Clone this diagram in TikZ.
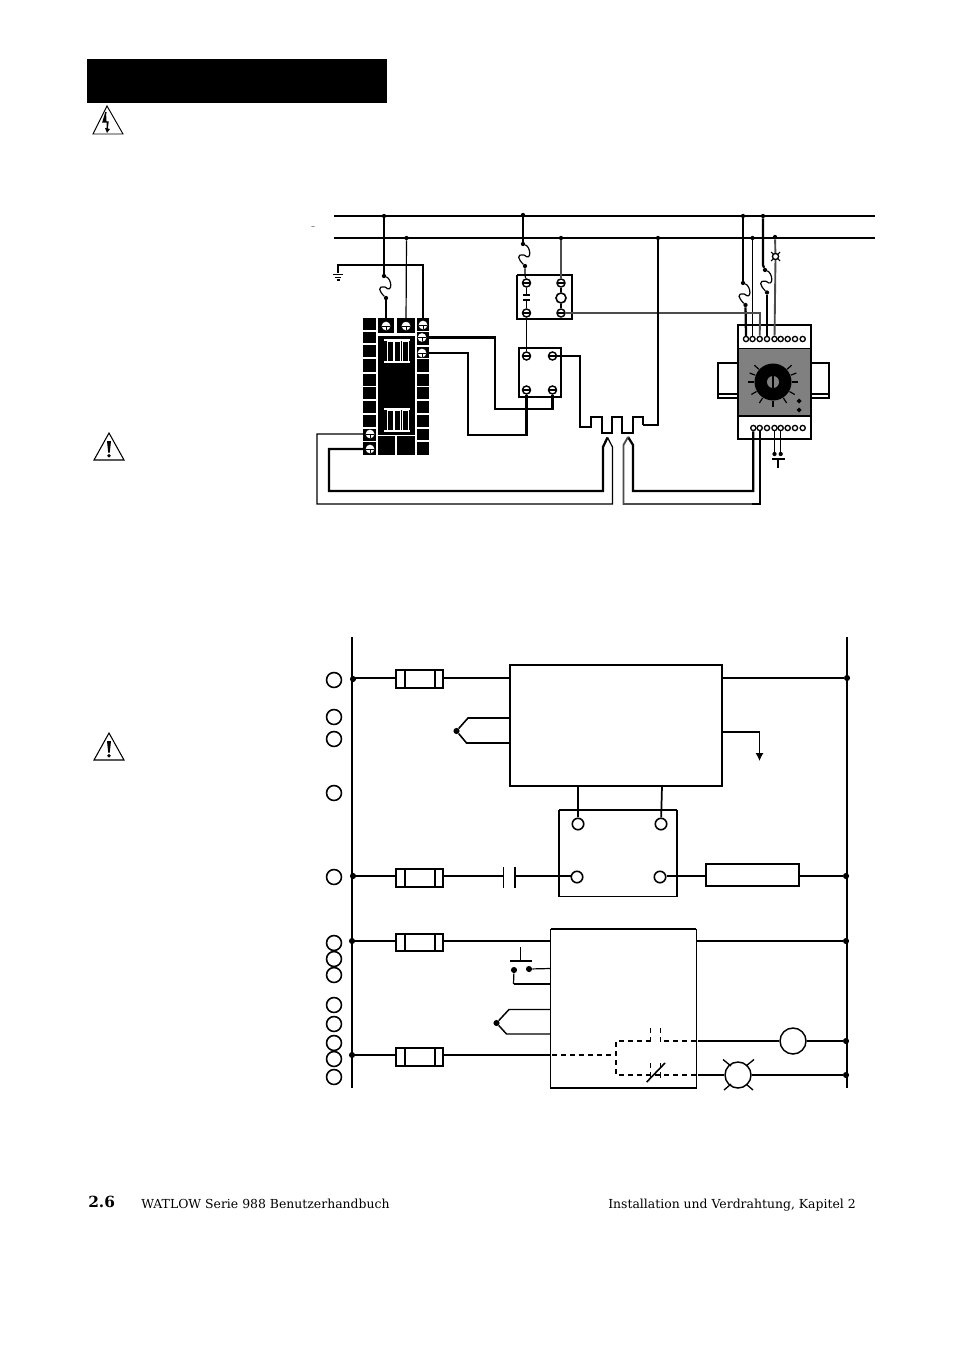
\documentclass[tikz,border=0pt]{standalone}
\usepackage{fontspec}
\setmainfont{DejaVu Serif}
\usetikzlibrary{arrows.meta,calc}
\definecolor{midgray}{gray}{0.5}
\definecolor{wiregray}{gray}{0.3}
\tikzset{
  w1/.style={line width=0.9pt},
  w2/.style={line width=1.7pt},
  graywire/.style={line width=1.4pt,color=wiregray},
  dot/.style={circle,fill=black,inner sep=0pt,minimum size=4.6pt},
  smalldot/.style={circle,fill=black,inner sep=0pt,minimum size=3.2pt},
  screw/.style={circle,draw=black,fill=white,line width=1.1pt,inner sep=0pt,minimum size=6pt,
    path picture={\draw[line width=1.1pt] (path picture bounding box.west)--(path picture bounding box.east);}},
  din/.style={circle,draw=black,fill=white,line width=1pt,inner sep=0pt,minimum size=3.9pt},
  ctrm/.style={circle,fill=white,inner sep=0pt,minimum size=6.5pt,
    path picture={\draw[line width=.7pt] (path picture bounding box.west)--(path picture bounding box.east);
      \draw[line width=.7pt] (path picture bounding box.center)--(path picture bounding box.south);}},
  cell/.style={fill=black,draw=none},
  ring/.style={circle,draw=black,line width=1.2pt,fill=white,inner sep=0pt,minimum size=11.2pt},
  lrg/.style={circle,draw=black,line width=1.2pt,fill=white,inner sep=0pt,minimum size=8.6pt},
  coil/.style={circle,draw=black,line width=1.1pt,fill=white,inner sep=0pt,minimum size=19.5pt},
  fusebox/.style={draw=black,fill=white,line width=1.4pt,minimum width=35pt,minimum height=13pt,inner sep=0pt},
  warn/.style={draw=black,line width=.8pt,fill=white,line join=miter},
  dashw/.style={line width=1.6pt,dash pattern=on 3.75pt off 3pt},
  dashv/.style={line width=.9pt,dash pattern=on 4pt off 3pt},
  foot/.style={inner sep=0pt,anchor=base west,font=\fontsize{9.32}{11}\selectfont}
}
\newcommand{\fuseline}[3][w1]{\draw[#1] (#2) .. controls +(8,3) and +(8,7) .. ($(#2)!0.5!(#3)$) .. controls +(-8,-1) and +(-7,-7) .. (#3);}
\newcommand{\pillars}[1]{%
  \foreach \cx in {387,394.5,402}{\draw[white,line width=.45pt] (\cx,#1+2) rectangle (\cx+6,#1+22);}
  \draw[white,line width=1.1pt] (384,#1+1) -- (410,#1+1);
  \draw[white,line width=1.1pt] (384,#1+23) -- (410,#1+23);
}
\newcommand{\warnmark}[1]{%
  \draw[warn] (109,#1) -- (124,#1+27) -- (94,#1+27) -- cycle;
  \fill (107,#1+8) -- (111,#1+8) -- (109.8,#1+19.5) -- (108.2,#1+19.5) -- cycle;
  \fill (109,#1+22.8) circle[radius=1.9];
}
\begin{document}
\begin{tikzpicture}[x=0.75pt,y=-0.75pt]
\useasboundingbox (0,0) rectangle (954,1351);
\fill[white] (0,0) rectangle (954,1351);
% header
\fill[black] (87,59) rectangle (387,103);
% warnings
\draw[warn,line width=.7pt] (107,106) -- (123,134) -- (93,134) -- cycle;
\draw[line width=1pt,fill=black] (106,112) -- (103,122) -- (108,122) -- (107,130);
\fill (105,128) -- (110,129) -- (107,133) -- cycle;
\warnmark{433}
\warnmark{733}

%%% upper diagram
\node[inner sep=0pt,font=\fontsize{4}{4}\selectfont] (tilde) at (313,227) {\~{}};
\coordinate (L1w) at (334,216); \coordinate (L1e) at (875,216);
\coordinate (L2w) at (334,238); \coordinate (L2e) at (875,238);
\draw[w2] (L1w) -- (L1e);
\draw[w2] (L2w) -- (L2e);

% controller body
\foreach \a/\b in {318/330,332/343,345/357,359/372,374/386,387/399,401/413,415/427,429/441,442/455}{\fill[cell] (363,\a) rectangle (376,\b);}
\foreach \a/\b in {318/331,332/345,347/358,359/372,374/386,387/399,401/413,415/427,429/440,442/455}{\fill[cell] (417,\a) rectangle (429,\b);}
\fill[cell] (378,318) rectangle (394,333);
\fill[cell] (397,318) rectangle (415,333);
\fill[cell] (378,336) rectangle (415,435);
\fill[cell] (378,436) rectangle (395,455);
\fill[cell] (397,436) rectangle (415,455);
\pillars{339}
\pillars{408}
\node[ctrm] (ct1) at (386,326) {};
\node[ctrm] (ct2) at (406,326) {};
\node[ctrm] (ct3) at (423,325) {};
\node[ctrm] (ct4) at (422,337.5) {};
\node[ctrm] (ct5) at (422,353) {};
\node[ctrm] (ct6) at (370,434) {};
\node[ctrm] (ct7) at (370,449) {};

% bus junctions
\node[smalldot] (j1) at (384,216) {};
\node[smalldot] (j2) at (406.5,238) {};
\node[smalldot] (j3) at (523,215) {};
\node[smalldot] (j4) at (561,238) {};
\node[smalldot] (j5) at (658,238) {};
\node[smalldot] (j6) at (743,216) {};
\node[smalldot] (j7) at (752.5,238) {};
\node[smalldot] (j8) at (763,216) {};
\node[smalldot] (j9) at (775,237) {};

% ground
\coordinate (gnd) at (338,273);
\draw[w2] (ct3) -- (423,265) -| (gnd);
\draw[line width=1.2pt] (333,274.5) -- (343,274.5);
\draw[line width=1.2pt] (335,277.5) -- (341,277.5);
\draw[line width=1.2pt] (336.5,280) -- (339.5,280);

% fuse 1
\node[smalldot] (f1a) at (384,276) {};
\node[smalldot] (f1b) at (386,298) {};
\draw[w1] (j1) -- (f1a);
\fuseline{f1a}{f1b}
\draw[w1] (f1b) -- (ct1);
\draw[w1] (j2) -- (406,322);

% relay box 1
\node[draw=black,line width=.8pt,minimum width=41.2pt,minimum height=33pt,inner sep=0pt] (rb1) at (544.5,297) {};
\draw[line width=1.5pt] (517,275) -- (517,319) -- (572,319);
\node[screw] (s1) at (526.5,283) {};
\node[screw] (s2) at (526.5,313) {};
\node[screw] (s3) at (561,283) {};
\node[screw] (s4) at (561,313) {};
\node[lrg,minimum size=7.5pt] (cir) at (561,298) {};
\draw[w1] (523,295) -- (530,295);
\draw[w1] (523,300) -- (530,300);
\draw[w1] (s1) -- (526.5,295);
\draw[w1] (526.5,300) -- (s2);
\draw[line width=1pt] (s3) -- (cir) -- (s4);
\node[smalldot] (f2a) at (523,244) {};
\node[smalldot] (f2b) at (525,266) {};
\draw[w1] (j3) -- (f2a);
\fuseline{f2a}{f2b}
\draw[w1] (f2b) -- (525,275) -- (s1);
\draw[graywire] (j4) -- (s3);

% relay box 2
\node[draw=black,line width=1.5pt,minimum width=31.5pt,minimum height=36.7pt,inner sep=0pt] (rb2) at (540,372.5) {};
\node[screw] (s5) at (526.5,356) {};
\node[screw] (s6) at (552.5,356) {};
\node[screw] (s7) at (526.5,390) {};
\node[screw] (s8) at (552.5,390) {};
\draw[w1] (s2) -- (s5);

% DIN module
\draw[line width=1.2pt,fill=white] (718,363) rectangle (738,398);
\draw[line width=.8pt] (718,394) -- (738,394);
\draw[line width=1.2pt,fill=white] (811,363) rectangle (829,398);
\draw[line width=.8pt] (811,394) -- (829,394);
\node[draw=black,line width=1.2pt,fill=white,minimum width=54.7pt,minimum height=85.5pt,inner sep=0pt] (din) at (774.5,382) {};
\fill[midgray] (738.5,349) rectangle (810.5,416);
\draw[line width=1.2pt] (738,348.5) -- (811,348.5);
\draw[line width=.8pt] (738,416) -- (811,416);
\draw[line width=1.2pt] (738,325) -- (738,439);
\draw[line width=1.2pt] (811,325) -- (811,439);
\foreach \ang in {90,57,30,0,-21,-42,123,150,180,201,222}{
  \draw[line width=.9pt] ($(773,382)+(\ang:19)$) -- ($(773,382)+(\ang:25)$);}
\fill[black] (773,382) circle[radius=18.5];
\fill[midgray] (773,382) circle[radius=6];
\fill[black] (771.6,376) rectangle (774.4,388);
\foreach \yy in {401,410}{\fill (799,\yy-2.5) -- (801.5,\yy) -- (799,\yy+2.5) -- (796.5,\yy) -- cycle;}
\foreach \n/\x in {1/746,2/752.5,3/759.7,4/767,5/774.5,6/780.7,7/787.7,8/795,9/802.7}{\node[din] (tt\n) at (\x,339) {};}
\foreach \n/\x in {2/753.3,3/759.7,4/767,5/774.5,6/780.7,7/787.7,8/795,9/802.7}{\node[din] (tb\n) at (\x,428) {};}

% wires to DIN
\node[smalldot] (f3a) at (743,283) {};
\node[smalldot] (f3b) at (745.5,305) {};
\draw[w2] (j6) -- (f3a);
\fuseline[w1]{f3a}{f3b}
\draw[w2] (f3b) -- (746,336) -- (tt1);
\draw[w1] (j7) -- (tt2);
\draw[graywire] (s4) -- (760,313) -- (tt3);
\node[smalldot] (f4a) at (765,270) {};
\node[smalldot] (f4b) at (767,292.5) {};
\draw[w2] (j8) -- (763,265) -- (f4a);
\fuseline[w1]{f4a}{f4b}
\draw[w2] (f4b) -- (tt4);
\node[circle,draw=black,line width=.9pt,fill=white,inner sep=0pt,minimum size=4.5pt] (mlamp) at (775.5,256.5) {};
\draw[graywire] (j9) -- (mlamp) -- (tt5);
\draw[line width=.8pt] (771,252) -- (780,261);
\draw[line width=.8pt] (780,252) -- (771,261);
\node[circle,draw=black,line width=.9pt,fill=white,inner sep=0pt,minimum size=4.5pt] at (775.5,256.5) {};

% T contact
\node[smalldot] (ta) at (774.5,454) {};
\node[smalldot] (tc) at (780.7,454) {};
\draw[line width=1.1pt] (tb5) -- (ta);
\draw[line width=1.1pt] (tb6) -- (tc);
\coordinate (tbar) at (778,459);
\draw[w1] (772,459) -- (785,459);
\draw[w1] (tbar) -- (778,468);

% heater
\coordinate (h0) at (580,427);
\draw[w2] (s6) -- (580,356) -- (h0) -- (591,427) -- (591,417) -- (601.7,417) -- (601.7,433) -- (612,433) -- (612,417) -- (622,417) -- (622,433) -- (633,433) -- (633,417) -- (643,417) -- (643,425);
\draw[w1] (643,425) -- (658,425) -- (j5);

% controller to relay 2
\draw[w2] (ct4) -- (495,337.5) -- (495,409) -- (552.5,409) -- (s8);
\draw[w2] (ct5) -- (468,353) -- (468,435) -- (526.5,435) -- (s7);

% thermocouples
\coordinate (tc1) at (607.5,437.5);
\coordinate (tc2) at (628,437);
\draw[w1] (ct6) -- (317,434) -- (317,504) -- (612.5,504) -- (612.5,447) -- (tc1);
\draw[w2] (ct7) -- (329,449) -- (329,491) -- (603,491) -- (603,447) -- (tc1);
\draw[w2] (tb2) -- (753.3,491) -- (633,491) -- (633,445) -- (tc2);
\draw[graywire] (tc2) -- (623.5,445) -- (623.5,504) -- (760,504);
\draw[w2] (tb3) -- (759.7,504) -- (752,504);

%%% lower diagram
\coordinate (RLt) at (352,637); \coordinate (RLb) at (352,1088);
\coordinate (RRt) at (847,637); \coordinate (RRb) at (847,1088);
\draw[w2] (RLt) -- (RLb);
\draw[w2] (RRt) -- (RRb);
\foreach \n/\y in {1/680,2/717,3/739,4/793,5/877,6/943,7/959,8/975,9/1005,10/1024,11/1043,12/1059,13/1077}{\node[ring] (c\n) at (334,\y) {};}

% junctions on rails
\node[dot] (a1) at (353,679) {};
\node[dot] (a2) at (353,876) {};
\node[dot] (a3) at (352,941) {};
\node[dot] (a4) at (352,1055) {};
\node[dot] (b1) at (847,678) {};
\node[dot] (b2) at (846,876) {};
\node[dot] (b3) at (846,941) {};
\node[dot] (b4) at (846,1041) {};
\node[dot] (b5) at (846,1075) {};

% boxes
\node[draw=black,line width=1.4pt,minimum width=159pt,minimum height=91pt,inner sep=0pt] (box1) at (616,725.5) {};
\node[draw=black,line width=.9pt,minimum width=88.5pt,minimum height=65pt,inner sep=0pt] (box2) at (618,853.5) {};
\draw[line width=1.6pt] (559,810) -- (677,810);
\node[draw=black,line width=1pt,fill=white,minimum width=109.5pt,minimum height=119pt,inner sep=0pt] (box3) at (623.3,1008.5) {};
\draw[line width=1.6pt] (550.5,929) -- (696,929);
\node[draw=black,line width=1.2pt,minimum width=69.7pt,minimum height=16.5pt,inner sep=0pt] (load) at (752.5,875) {};

% fuses
\foreach \n/\y in {1/679,2/878,3/942.5,4/1057}{
  \node[fusebox] (fu\n) at (419.5,\y) {};
  \draw[line width=1.2pt] (405,\y-9) -- (405,\y+9);
  \draw[line width=1.2pt] (435,\y-9) -- (435,\y+9);
}
% rung 1
\draw[w2] (352,678) -- (fu1.west |- 352,678);
\draw[w2] (fu1.east |- 443,678) -- (510,678);
\draw[w2] (722,678) -- (b1);
% thermocouple 1
\node[dot] (tk1) at (456.5,731) {};
\draw[line width=1.2pt] (tk1) -- (468,718) -- (510,718);
\draw[line width=1.2pt] (tk1) -- (466.5,743) -- (510,743);
% output arrow
\coordinate (arr) at (759.5,761);
\draw[w1,-{Latex[length=6pt,width=6pt]}] (722,732) -- (759.5,732) -- (arr);
% box1 to box2
\node[lrg] (p1) at (578,824) {};
\node[lrg] (p2) at (661,824) {};
\node[lrg] (p3) at (577,877) {};
\node[lrg] (p4) at (660,877) {};
\draw[line width=1.3pt] (578,786) -- (p1);
\draw[line width=1.3pt] (662,786) -- (p2);
% rung 2
\draw[w2] (352,876) -- (396,876);
\draw[w2] (443,876) -- (503,876);
\draw[w1] (503.5,867) -- (503.5,888);
\draw[line width=1.6pt] (515,867) -- (515,888);
\draw[line width=1.2pt] (515,876) -- (570.5,876);
\draw[line width=1.2pt] (666.5,876) -- (706,876);
\draw[line width=1.2pt] (799,876) -- (b2);
% rung 3
\draw[w1] (352,941) -- (396,941);
\draw[w1] (443,941) -- (550.5,941);
\draw[w1] (696,941) -- (b3);
% push button
\node[dot] (pb1) at (514,970) {};
\node[dot] (pb2) at (529,969) {};
\draw[w1] (510,961) -- (532,961);
\draw[w1] (520.7,947) -- (520.7,961);
\draw[w1] (pb2) -- (550.5,968.5);
\draw[w1] (pb1) -- (513.5,984);
\draw[line width=1.5pt] (513.5,984) -- (550.5,984);
% thermocouple 2
\node[dot] (tk2) at (496.5,1023) {};
\draw[line width=1.1pt] (tk2) -- (509,1009.5) -- (550.5,1009.5);
\draw[line width=1.1pt] (tk2) -- (506.5,1034) -- (550.5,1034);
% rung 4
\draw[w2] (352,1055) -- (396,1055);
\draw[w2] (443,1055) -- (550.5,1055);
\draw[dashw] (552,1055) -- (616,1055);
\draw[dashw] (696,1041) -- (616,1041) -- (616,1075) -- (696,1075);
\fill[white] (651,1037) rectangle (659.5,1045);
\draw[dashv] (650.7,1028) -- (650.7,1042);
\draw[dashv] (660.5,1028) -- (660.5,1042);
\draw[dashv] (650.7,1063) -- (650.7,1080);
\draw[dashv] (660.5,1063) -- (660.5,1080);
\draw[line width=1.2pt] (646.7,1082) -- (665,1063);
% outputs
\node[coil] (coil1) at (793,1041) {};
\node[coil] (lamp) at (738,1075) {};
\draw[w2] (698,1041) -- (coil1) -- (b4);
\draw[w2] (698,1075) -- (lamp) -- (b5);
\draw[line width=1pt] (723,1059.5) -- (731,1066);
\draw[line width=1pt] (754,1059.5) -- (746,1066);
\draw[line width=1pt] (724,1090) -- (731,1084);
\draw[line width=1pt] (753,1090) -- (746,1084);

% footer
\node[inner sep=0pt,anchor=base west,font=\fontsize{11.5}{12}\bfseries\selectfont] (pg) at (88,1207) {2.6};
\node[foot] (ft1) at (141,1208) {WATLOW Serie 988 Benutzerhandbuch};
\node[foot] (ft2) at (608,1208) {Installation und Verdrahtung, Kapitel 2};
\end{tikzpicture}
\end{document}
